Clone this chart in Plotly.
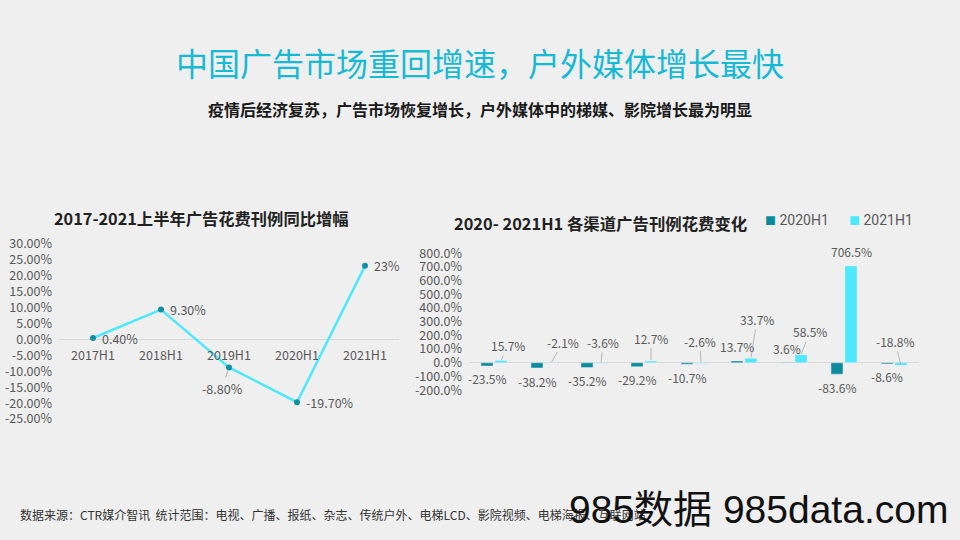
import plotly.graph_objects as go

# ---------------- data ----------------
periods = ["2017H1", "2018H1", "2019H1", "2020H1", "2021H1"]
growth = [0.4, 9.3, -8.8, -19.7, 23.0]
growth_labels = ["0.40%", "9.30%", "-8.80%", "-19.70%", "23%"]

channels = ["电视", "广播", "报纸", "杂志", "传统户外", "电梯LCD", "影院视频", "电梯海报", "互联网"]
series_names = ["2020H1", "2021H1"]
h1_2020 = [-23.5, -38.2, -35.2, -29.2, -10.7, 13.7, 3.6, -83.6, -8.6]
h1_2021 = [15.7, -2.1, -3.6, 12.7, -2.6, 33.7, 58.5, 706.5, -18.8]

left_ticks = [30, 25, 20, 15, 10, 5, 0, -5, -10, -15, -20, -25]
right_ticks = [800, 700, 600, 500, 400, 300, 200, 100, 0, -100, -200]

BG = "#efefef"
CYAN = "#4ee8fb"
DARK = "#0c8b9c"
GRAY_TXT = "#595959"
FONT = "Noto Sans CJK SC"
W, H = 960, 540

def py(px):
    return 1 - px / H

fig = go.Figure()

# left line chart
fig.add_trace(go.Scatter(
    x=periods, y=growth, mode="lines+markers",
    line=dict(color=CYAN, width=2.5),
    marker=dict(color="#128fa3", size=6),
    xaxis="x", yaxis="y", showlegend=False, hoverinfo="skip"))

# right bar chart
fig.add_trace(go.Bar(x=channels, y=h1_2020, name=series_names[0], marker_color=DARK,
                     xaxis="x2", yaxis="y2", showlegend=False))
fig.add_trace(go.Bar(x=channels, y=h1_2021, name=series_names[1], marker_color=CYAN,
                     xaxis="x2", yaxis="y2", showlegend=False))

ann = []
# line labels
for i, (v, t) in enumerate(zip(growth, growth_labels)):
    if i == 2:
        ann.append(dict(x=periods[i], y=v, xref="x", yref="y", text=t,
                        showarrow=True, arrowhead=0, arrowwidth=0.8, arrowcolor="#9a9a9a",
                        ax=-7, ay=21, standoff=4,
                        font=dict(size=12.5, color=GRAY_TXT, family=FONT)))
    else:
        ann.append(dict(x=periods[i], y=v, xref="x", yref="y", text=t,
                        showarrow=False, xanchor="left", yanchor="middle", xshift=7,
                        font=dict(size=12.5, color=GRAY_TXT, family=FONT)))

# bar labels
off = 0.14
for i, v in enumerate(h1_2020):
    ann.append(dict(x=i - off, y=v, xref="x2", yref="y2", text=f"{v:.1f}%",
                    showarrow=False, xanchor="center", yanchor="middle",
                    yshift=(-13 if v < 0 else 14),
                    font=dict(size=12, color=GRAY_TXT, family=FONT)))

light_off = [(7, -15), (12, -21), (2, -21), (0, -23), (-1, -22),
             (6, -39), (9, -23), (0, -14), (-6, -24)]
for i, v in enumerate(h1_2021):
    ax, ay = light_off[i]
    if i == 7:
        ann.append(dict(x=i + off, y=v, xref="x2", yref="y2", text=f"{v:.1f}%",
                        showarrow=False, xanchor="center", yanchor="middle", yshift=14,
                        font=dict(size=12, color=GRAY_TXT, family=FONT)))
    else:
        ann.append(dict(x=i + off, y=v, xref="x2", yref="y2", text=f"{v:.1f}%",
                        showarrow=True, arrowhead=0, arrowwidth=0.8, arrowcolor="#a8a8a8",
                        ax=ax, ay=ay, standoff=1,
                        font=dict(size=12, color=GRAY_TXT, family=FONT)))

# legend built as text (square glyph + label)
legend_x = [763, 847]
for name, col, lx in zip(series_names, [DARK, CYAN], legend_x):
    ann.append(dict(x=lx / W, y=py(217), xref="paper", yref="paper", showarrow=False,
                    xanchor="left", yanchor="middle",
                    text=f"<span style='color:{col};font-size:11px'>■</span> {name}",
                    font=dict(size=14, color=GRAY_TXT, family="Roboto, Noto Sans CJK SC")))

# titles and texts
ann += [
    dict(x=0.5, y=py(53), xref="paper", yref="paper", showarrow=False,
         xanchor="center", yanchor="middle",
         text="中国广告市场重回增速，户外媒体增长最快",
         font=dict(size=32, color="#18b9d2", family=FONT)),
    dict(x=0.5, y=py(102), xref="paper", yref="paper", showarrow=False,
         xanchor="center", yanchor="middle",
         text="<b>疫情后经济复苏，广告市场恢复增长，户外媒体中的梯媒、影院增长最为明显</b>",
         font=dict(size=16, color="#1a1a1a", family=FONT)),
    dict(x=201 / W, y=py(215), xref="paper", yref="paper", showarrow=False,
         xanchor="center", yanchor="middle",
         text="<b>2017-2021上半年广告花费刊例同比增幅</b>",
         font=dict(size=16.3, color="#222222", family=FONT)),
    dict(x=452 / W, y=py(220), xref="paper", yref="paper", showarrow=False,
         xanchor="left", yanchor="middle",
         text="<b>2020- 2021H1 各渠道广告刊例花费变化</b>",
         font=dict(size=16.4, color="#222222", family=FONT)),
    dict(x=18 / W, y=py(522), xref="paper", yref="paper", showarrow=False,
         xanchor="left", yanchor="middle",
         text="数据来源：CTR媒介智讯  统计范围：电视、广播、报纸、杂志、传统户外、电梯LCD、影院视频、电梯海报、互联网站",
         font=dict(size=12, color="#333333", family=FONT)),
    dict(x=567 / W, y=py(517), xref="paper", yref="paper", showarrow=False,
         xanchor="left", yanchor="middle",
         text="985数据 985data.com",
         font=dict(size=39, color="#111111", family="Liberation Sans, Noto Sans CJK SC")),
]

y_zero_left = (0 - (-25)) / 55 * (py(241) - py(423)) + py(423)

fig.update_layout(
    width=W, height=H,
    margin=dict(l=0, r=0, t=0, b=0),
    paper_bgcolor=BG, plot_bgcolor=BG,
    font=dict(family=FONT, color=GRAY_TXT),
    barmode="group", bargap=0.44, bargroupgap=0.14,
    showlegend=False,
    xaxis=dict(domain=[59 / W, 399 / W], anchor="free", position=y_zero_left,
               showgrid=False, showline=False, zeroline=False, ticks="",
               tickfont=dict(size=12.5, color=GRAY_TXT), range=[-0.5, 4.5],
               ticklabelstandoff=7),
    yaxis=dict(domain=[py(423), py(241)], range=[-25, 30], anchor="x",
               tickvals=left_ticks, ticktext=[f"{v:.2f}%" for v in left_ticks],
               showgrid=False, zeroline=True, zerolinecolor="#d9d9d9", zerolinewidth=1,
               tickfont=dict(size=12.5, color=GRAY_TXT), ticks="", ticklabelstandoff=6),
    xaxis2=dict(domain=[469 / W, 919 / W], anchor="y2", showticklabels=False,
                showgrid=False, showline=False, zeroline=False, ticks="",
                range=[-0.5, 8.5]),
    yaxis2=dict(domain=[py(393), py(251)], range=[-200, 800], anchor="x2",
                tickvals=right_ticks, ticktext=[f"{v:.1f}%" for v in right_ticks],
                showgrid=False, zeroline=True, zerolinecolor="#d9d9d9", zerolinewidth=1,
                tickfont=dict(size=12.5, color=GRAY_TXT), ticks="", ticklabelstandoff=6),
    annotations=ann,
)

fig.write_html("out.html")
